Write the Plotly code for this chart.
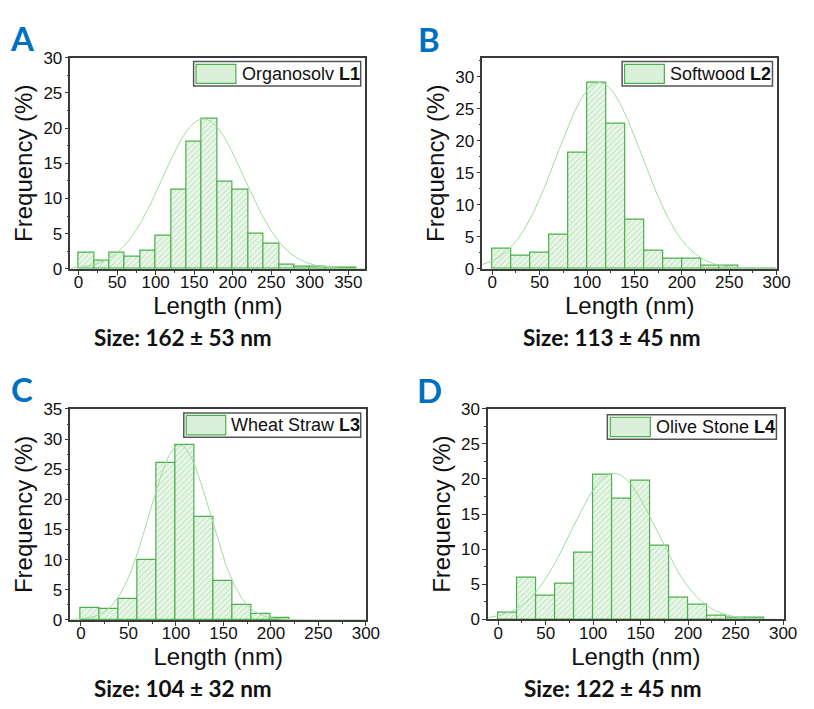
import numpy as np
import plotly.graph_objects as go

# ---------------- data ----------------
bin_width = 20
freq_L1 = [2.3, 1.15, 2.3, 1.75, 2.55, 4.75, 11.3, 18.0, 21.4, 12.4, 11.2, 5.0, 3.55, 0.55, 0.3, 0.3, 0.14, 0.14]
freq_L2 = [3.2, 2.0, 2.5, 5.3, 18.2, 29.1, 22.7, 7.75, 2.9, 1.6, 1.6, 0.5, 0.5, 0.05, 0.05]
freq_L3 = [1.9, 1.8, 3.4, 9.9, 26.0, 29.0, 17.1, 6.4, 2.4, 0.9, 0.25]
freq_L4 = [0.9, 5.95, 3.45, 5.1, 9.55, 20.6, 17.2, 19.7, 10.5, 3.1, 2.1, 0.6, 0.25, 0.22]

fit_mean = [162, 113, 104, 122]
fit_sd = [53, 45, 32, 45]
fit_peak = [21.3, 29.1, 29.0, 20.8]

sample_names = ["Organosolv", "Softwood", "Wheat Straw", "Olive Stone"]
sample_codes = ["L1", "L2", "L3", "L4"]
panel_letters = ["A", "B", "C", "D"]
size_labels = ["Size: 162 ± 53 nm", "Size: 113 ± 45 nm", "Size: 104 ± 32 nm", "Size: 122 ± 45 nm"]

x_ranges = [[-10.5, 372], [-10.5, 300.5], [-11, 300], [-10.5, 300.5]]
y_ranges = [[0, 30], [0, 33], [0, 35], [0, 30]]

freqs = [freq_L1, freq_L2, freq_L3, freq_L4]

# ---------------- layout geometry (pixels) ----------------
W, H = 814, 709
# plot boxes: left, right, top, bottom
boxes = [(71.7, 371.7, 50, 267), (490.7, 790.7, 50, 267),
         (71.7, 372.3, 411, 627.7), (496.7, 797.3, 410.7, 627.3)]
# legend boxes: left, right, top, bottom ; swatch: left, right, top, bottom ; text x
leg_boxes = [(197, 367, 54, 79), (633, 786, 54, 79), (187, 367, 415, 440), (618, 790, 417, 442)]
swatches = [(199.5, 240, 57, 76.5), (635.5, 676, 57, 76.5), (189.5, 229.7, 417.5, 437.5), (621, 661.7, 419.5, 439.5)]
leg_text_x = [244, 680, 233, 665]
letter_pos = [(23, 30), (436, 31), (22, 390), (437, 391)]
size_pos = [(186, 338), (623, 338), (186, 698), (624, 698)]


def px(x):
    return x / W


def py(y):
    return 1 - y / H


GREEN_LINE = "rgb(76,176,76)"
FIT_LINE = "rgb(160,220,160)"
AXIS_COL = "#3a3a3a"
TICK_FONT = dict(family="Liberation Sans, Arial", size=17, color="#111")
TITLE_FONT = dict(family="Liberation Sans, Arial", size=24, color="#111")

fig = go.Figure()
shapes = []
annotations = []

for i in range(4):
    xa = "x" if i == 0 else f"x{i+1}"
    ya = "y" if i == 0 else f"y{i+1}"
    f = freqs[i]
    centers = [bin_width * k + bin_width / 2 for k in range(len(f))]
    fig.add_trace(go.Bar(
        x=centers, y=f, width=bin_width, xaxis=xa, yaxis=ya,
        marker=dict(
            color="rgb(232,246,232)",
            line=dict(color=GREEN_LINE, width=1.2),
            pattern=dict(shape="/", fgcolor="rgb(115,190,115)", bgcolor="rgb(232,246,232)",
                         size=4, solidity=0.22),
        ),
        showlegend=False, name=f"{sample_names[i]} {sample_codes[i]}",
    ))
    xr = x_ranges[i]
    xs = np.linspace(xr[0], xr[1], 400)
    ys = fit_peak[i] * np.exp(-((xs - fit_mean[i]) ** 2) / (2 * fit_sd[i] ** 2))
    fig.add_trace(go.Scatter(x=xs, y=ys, mode="lines", xaxis=xa, yaxis=ya,
                             line=dict(color=FIT_LINE, width=1), showlegend=False,
                             hoverinfo="skip"))

    l, r, t, b = boxes[i]
    xkey = "xaxis" if i == 0 else f"xaxis{i+1}"
    ykey = "yaxis" if i == 0 else f"yaxis{i+1}"
    fig.layout[xkey] = dict(
        domain=[px(l), px(r)], anchor=ya, range=xr, dtick=50, tick0=0,
        showline=True, mirror=True, linecolor=AXIS_COL, linewidth=1.5,
        ticks="outside", ticklen=4, tickwidth=1.2, tickcolor=AXIS_COL,
        minor=dict(ticks="outside", dtick=25, ticklen=2, tickcolor=AXIS_COL),
        showgrid=False, zeroline=False, tickfont=TICK_FONT, ticklabelstandoff=-7,
        title=dict(text="Length (nm)", font=TITLE_FONT, standoff=0),
    )
    fig.layout[ykey] = dict(
        domain=[py(b), py(t)], anchor=xa, range=y_ranges[i], dtick=5, tick0=0,
        showline=True, mirror=True, linecolor=AXIS_COL, linewidth=1.5,
        ticks="outside", ticklen=4, tickwidth=1.2, tickcolor=AXIS_COL,
        minor=dict(ticks="outside", dtick=2.5, ticklen=2, tickcolor=AXIS_COL),
        showgrid=False, zeroline=False, tickfont=TICK_FONT, ticklabelstandoff=-1,
        title=dict(text="Frequency (%)", font=TITLE_FONT, standoff=4),
    )

    # legend box
    ll, lr, lt, lb = leg_boxes[i]
    shapes.append(dict(type="rect", xref="paper", yref="paper",
                       x0=px(ll), x1=px(lr), y0=py(lb), y1=py(lt),
                       line=dict(color="#555", width=1.5), fillcolor="white"))
    sl, sr, st, sb = swatches[i]
    shapes.append(dict(type="rect", xref="paper", yref="paper",
                       x0=px(sl), x1=px(sr), y0=py(sb), y1=py(st),
                       line=dict(color=GREEN_LINE, width=1.2), fillcolor="rgb(218,240,218)"))
    annotations.append(dict(
        xref="paper", yref="paper", x=px(leg_text_x[i]), y=py((lt + lb) / 2),
        xanchor="left", yanchor="middle", showarrow=False,
        text=f"{sample_names[i]} <b>{sample_codes[i]}</b>",
        font=dict(family="Liberation Sans, Arial", size=18, color="#111"),
    ))
    # panel letter
    lx, ly = letter_pos[i]
    annotations.append(dict(
        xref="paper", yref="paper", x=px(lx), y=py(ly), xanchor="center", yanchor="middle",
        showarrow=False, text=f"<b>{panel_letters[i]}</b>",
        font=dict(family="Lato, Noto Sans", size=33, color="#0070C0"),
    ))
    # size label
    sx, sy = size_pos[i]
    annotations.append(dict(
        xref="paper", yref="paper", x=px(sx), y=py(sy), xanchor="center", yanchor="middle",
        showarrow=False, text=f"<b>{size_labels[i]}</b>",
        font=dict(family="Lato, Noto Sans", size=22.5, color="#111"),
    ))

fig.update_layout(
    width=W, height=H, margin=dict(l=0, r=0, t=0, b=0),
    paper_bgcolor="white", plot_bgcolor="white",
    shapes=shapes, annotations=annotations, bargap=0,
    showlegend=False,
)

fig.write_html("out.html", config={"displayModeBar": False},
               post_script="document.body.style.margin='0';document.body.style.overflow='hidden';")
